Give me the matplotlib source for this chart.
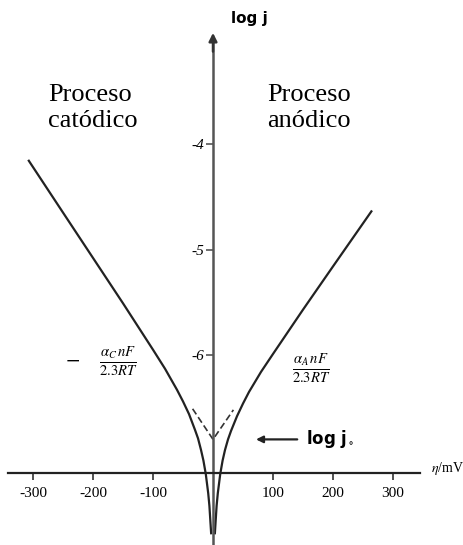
import matplotlib
matplotlib.use("Agg")
import matplotlib.pyplot as plt

plt.rcParams['mathtext.fontset'] = 'stix'

# overpotential (mV) and log j
eta_cat = [-308, -250, -200, -150, -100, -80, -60, -50, -40, -30, -25, -20, -16, -12, -8, -6, -4, -3]
logj_cat = [-4.15, -4.65, -5.08, -5.51, -5.95, -6.13, -6.33, -6.44, -6.56, -6.71, -6.79, -6.90, -7.00, -7.13, -7.31, -7.43, -7.61, -7.70]

eta_an = [3, 4, 6, 8, 12, 16, 20, 25, 30, 40, 50, 60, 80, 100, 150, 200, 265]
logj_an = [-7.70, -7.61, -7.43, -7.31, -7.13, -7.00, -6.90, -6.80, -6.72, -6.58, -6.46, -6.35, -6.16, -5.99, -5.57, -5.16, -4.63]

# Tafel extrapolations meeting at log j0
eta_tafel = [-34, 0, 34]
logj_tafel = [-6.51, -6.80, -6.52]
log_j0 = -6.80

x_ticks = [-300, -200, -100, 100, 200, 300]
y_ticks = [-6, -5, -4]
y_labels = ["-6", "-5", "-4"]

fig = plt.figure(figsize=(4.64, 5.45), dpi=100)
ax = fig.add_axes([0, 0, 1, 1])
ax.set_xlim(-355, 418.3)
ax.set_ylim(-7.801, -2.635)

# curves
ax.plot(eta_cat, logj_cat, color='#222222', lw=1.6, solid_capstyle='butt')
ax.plot(eta_an, logj_an, color='#222222', lw=1.6, solid_capstyle='butt')
ax.plot(eta_tafel, logj_tafel, color='#333333', lw=1.2, linestyle=(0, (4, 2)))

# axes crossing at eta = 0
for s in ['top', 'right']:
    ax.spines[s].set_visible(False)
ax.spines['left'].set_position(('data', 0))
ax.spines['bottom'].set_position(('data', -7.116))
ax.spines['left'].set_bounds(-7.801, -3.0)
ax.spines['bottom'].set_bounds(-342, 345)
ax.spines['left'].set_color('#555555')
ax.spines['left'].set_linewidth(1.8)
ax.spines['bottom'].set_color('#222222')
ax.spines['bottom'].set_linewidth(1.6)

ax.set_xticks(x_ticks)
ax.set_xticklabels([str(v) for v in x_ticks], family='Liberation Serif', fontsize=11)
ax.set_yticks(y_ticks)
ax.set_yticklabels(y_labels, family='Liberation Serif', fontsize=11, style='italic')
ax.tick_params(axis='x', direction='out', length=5, width=1.2, pad=5, color='#333333')
ax.tick_params(axis='y', direction='out', length=5, width=1.2, pad=1, color='#555555')

# arrow head on the vertical axis
ax.annotate('', xy=(0, -2.92), xytext=(0, -3.15),
            arrowprops=dict(arrowstyle='-|>', color='#333333', lw=1.8,
                            mutation_scale=12))

ax.text(30, -2.806, 'log j', fontsize=11, fontweight='bold', ha='left', va='center')
ax.text(418, -7.08, r'$\eta$/mV', family='Liberation Serif', fontsize=10,
        ha='right', va='center')

ax.text(-275, -3.66, 'Proceso\ncatódico', family='Liberation Serif', fontsize=19,
        ha='left', va='center', multialignment='left', linespacing=1.2)
ax.text(90, -3.66, 'Proceso\nanódico', family='Liberation Serif', fontsize=19,
        ha='left', va='center', multialignment='left', linespacing=1.2)

ax.text(-186, -6.07, r'$-\ \ \ \ \frac{\alpha_C\, nF}{2.3RT}$', fontsize=15,
        ha='center', va='center')
ax.text(163, -6.14, r'$\frac{\alpha_A\, nF}{2.3RT}$', fontsize=15,
        ha='center', va='center')

# log j0 marker
ax.annotate('', xy=(67, log_j0), xytext=(145, log_j0),
            arrowprops=dict(arrowstyle='-|>', color='#222222', lw=1.6,
                            mutation_scale=10))
ax.text(155, log_j0, r'log j$_\circ$', fontsize=12, fontweight='bold',
        ha='left', va='center')

fig.savefig('out.png', dpi=100)
